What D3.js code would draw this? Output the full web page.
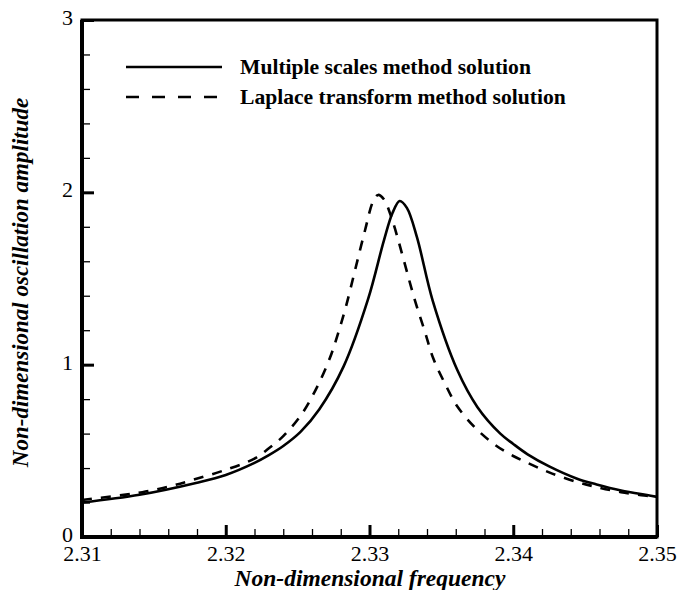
<!DOCTYPE html>
<html><head><meta charset="utf-8">
<script src="https://cdn.jsdelivr.net/npm/d3@7"></script>
<style>body{margin:0;background:#fff;} svg{display:block;} text{font-family:'Liberation Serif','Times New Roman',Times,serif;}</style>
</head><body>
<svg id="c" width="679" height="590"></svg>
<script>
const xTicks = [2.31, 2.32, 2.33, 2.34, 2.35];
const yTicks = [0, 1, 2, 3];
const seriesNames = ["Multiple scales method solution", "Laplace transform method solution"];
const msX = [2.31, 2.314, 2.318, 2.32, 2.322, 2.323, 2.324, 2.3252, 2.3265, 2.3282, 2.3299, 2.331, 2.3316, 2.3321, 2.3326, 2.3333, 2.3344, 2.3361, 2.3375, 2.3391, 2.340, 2.341, 2.3425, 2.3444, 2.3458, 2.3475, 2.3494, 2.35];
const msY = [0.200, 0.245, 0.315, 0.36, 0.43, 0.475, 0.528, 0.61, 0.74, 0.99, 1.38, 1.72, 1.88, 1.95, 1.91, 1.74, 1.37, 0.97, 0.755, 0.60, 0.54, 0.48, 0.41, 0.34, 0.305, 0.27, 0.242, 0.233];
const ltX = [2.31, 2.3123, 2.3142, 2.316, 2.3177, 2.32, 2.322, 2.323, 2.324, 2.3253, 2.32635, 2.32725, 2.32781, 2.32837, 2.3290, 2.32969, 2.33026, 2.3306, 2.3310, 2.33154, 2.33317, 2.33386, 2.33442, 2.33525, 2.33609, 2.33734, 2.33873, 2.340, 2.341, 2.3425, 2.3444, 2.3458, 2.3475, 2.3494, 2.35];
const ltY = [0.215, 0.238, 0.26, 0.292, 0.331, 0.39, 0.455, 0.515, 0.585, 0.715, 0.87, 1.04, 1.18, 1.34, 1.55, 1.78, 1.95, 1.985, 1.96, 1.85, 1.37, 1.19, 1.04, 0.89, 0.76, 0.635, 0.535, 0.47, 0.43, 0.375, 0.32, 0.29, 0.26, 0.238, 0.229];

const svg = d3.select("#c");
const L = 82, R = 657, T = 20, B = 537;
const x = d3.scaleLinear().domain([2.31, 2.35]).range([L, R]);
const y = d3.scaleLinear().domain([0, 3]).range([B, T]);
const font = "'Liberation Serif','Times New Roman',Times,serif";

// minor ticks
const xMinor = d3.range(0, 21).map(i => 2.31 + i * 0.002);
const yMinor = d3.range(0, 16).map(i => i * 0.2);
const gx = svg.append("g").attr("transform", `translate(0,${B})`)
  .call(d3.axisBottom(x).tickValues(xMinor).tickSize(-8).tickFormat(""));
gx.selectAll("path").remove();
gx.selectAll("line").attr("stroke", "#000").attr("stroke-width", 1.3);
const gy = svg.append("g").attr("transform", `translate(${L},0)`)
  .call(d3.axisLeft(y).tickValues(yMinor).tickSize(-8).tickFormat(""));
gy.selectAll("path").remove();
gy.selectAll("line").attr("stroke", "#000").attr("stroke-width", 1.3);

// major ticks
const gxM = svg.append("g").attr("transform", `translate(0,${B})`)
  .call(d3.axisBottom(x).tickValues(xTicks).tickSize(-12).tickPadding(22).tickFormat(d3.format(".2f")));
gxM.selectAll("path").remove();
gxM.selectAll("line").attr("stroke", "#000").attr("stroke-width", 3);
gxM.selectAll("text").attr("font-family", font).attr("font-size", 22).attr("fill", "#000").attr("dy", "0.1em");
const gyM = svg.append("g").attr("transform", `translate(${L},0)`)
  .call(d3.axisLeft(y).tickValues(yTicks).tickSize(-12).tickPadding(9).tickFormat(d3.format("d")));
gyM.selectAll("path").remove();
gyM.selectAll("line").attr("stroke", "#000").attr("stroke-width", 3);
gyM.selectAll("text").attr("font-family", font).attr("font-size", 22).attr("fill", "#000").attr("dy", "0.2em");

// frame
svg.append("rect").attr("x", L).attr("y", T).attr("width", R - L).attr("height", B - T)
  .attr("fill", "none").attr("stroke", "#000").attr("stroke-width", 3);
svg.append("line").attr("x1", L).attr("x2", L).attr("y1", T).attr("y2", B + 1.5).attr("stroke", "#000").attr("stroke-width", 4);
svg.append("line").attr("x1", L - 2).attr("x2", R).attr("y1", B).attr("y2", B).attr("stroke", "#000").attr("stroke-width", 4);

// curves
const line = d3.line().x(d => x(d[0])).y(d => y(d[1])).curve(d3.curveCatmullRom.alpha(0.5));
svg.append("path").datum(msX.map((v, i) => [v, msY[i]])).attr("d", line)
  .attr("fill", "none").attr("stroke", "#000").attr("stroke-width", 2.6);
svg.append("path").datum(ltX.map((v, i) => [v, ltY[i]])).attr("d", line)
  .attr("fill", "none").attr("stroke", "#000").attr("stroke-width", 2.6).attr("stroke-dasharray", "10,9");

// legend
const leg = svg.append("g");
[0, 1].forEach(i => {
  const yy = 67 + i * 30;
  leg.append("line").attr("x1", 126).attr("x2", 222).attr("y1", yy).attr("y2", yy)
    .attr("stroke", "#000").attr("stroke-width", 2.6).attr("stroke-dasharray", i ? "13,13" : null);
  leg.append("text").attr("x", 240).attr("y", yy + 7).text(seriesNames[i])
    .attr("font-family", font).attr("font-weight", "bold").attr("font-size", 21.6);
});

// axis titles
svg.append("text").attr("x", 370).attr("y", 586).attr("text-anchor", "middle")
  .attr("font-family", font).attr("font-weight", "bold").attr("font-style", "italic").attr("font-size", 23.5)
  .text("Non-dimensional frequency");
svg.append("text").attr("transform", `translate(28,${(T + B) / 2 + 4}) rotate(-90)`).attr("text-anchor", "middle")
  .attr("font-family", font).attr("font-weight", "bold").attr("font-style", "italic").attr("font-size", 23)
  .text("Non-dimensional oscillation amplitude");
</script>
</body></html>
